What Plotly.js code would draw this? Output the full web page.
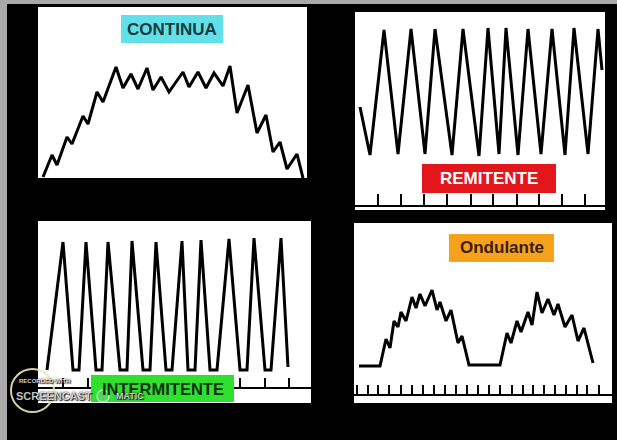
<!DOCTYPE html>
<html><head><meta charset="utf-8">
<script src="https://cdn.plot.ly/plotly-3.0.1.min.js"></script>
<style>html,body{margin:0;padding:0;background:#000;}#chart{width:617px;height:440px;}</style>
</head><body><div id="chart"></div>
<script>
// ---- data (readings: time units, temperature units above panel base) ----
const continuaT    = [5,14,19,29,34,45,50,59,65,78,85,93,100,109,115,123,131,145,151,160,168,176,185,192,199,210,219,228,235,242,249,259,265];
const continuaTemp = [1,23,13,41,34,62,54,86,76,111,90,104,89,110,88,101,86,106,91,106,90,105,92,112,65,93,45,63,26,36,9,24,0];

const remitenteT    = [5,15,29,43,56,70,80,97,108,124,133,144,151,163,173,186,197,210,219,233,243,247];
const remitenteTemp = [103,55,180,56,181,56,181,55,181,54,182,56,182,55,181,56,181,55,182,56,181,140];
const remitenteTicks = [23,46,69,92,116,138,162,184,207,230];

const intermitenteT    = [9,25,35,41,48,58,64,70,82,89,94,105,112,118,128,134,144,150,157,163,172,179,191,202,209,216,227,233,243,250];
const intermitenteTemp = [33,161,33,33,161,33,33,161,33,33,162,33,33,161,33,33,162,33,33,163,33,33,164,33,33,165,33,33,165,36];
const intermitenteTicks = [25,50,75,101,126,151,177,202,227,251];

const ondulanteT    = [5,26,32,36,40,44,47,52,58,62,66,71,78,83,86,92,97,104,108,115,146,153,157,163,167,174,178,183,188,194,200,204,211,218,224,230,239];
const ondulanteTemp = [37,37,64,55,82,76,91,82,106,95,109,97,113,93,101,82,93,60,67,38,38,70,60,82,71,91,78,111,90,104,88,99,76,88,62,75,40];
const ondulanteTicks = [3,14,24,35,47,58,69,80,91,102,113,124,135,146,158,169,179,190,201,212,223,233,245];

const labels = ["CONTINUA","REMITENTE","INTERMITENTE","Ondulante"];

// ---- layout helpers ----
const W=617, H=440;
const fx = p => p/W, fy = p => 1-p/H;
const panels = [
  {x:[38,307], y:[7,178]},
  {x:[355,605], y:[12,210], base:206, tl:11},
  {x:[38,311], y:[221,403], base:388, tl:9},
  {x:[354,612], y:[223,403], base:395, tl:9}
];
const series = [
  [continuaT, continuaTemp, null],
  [remitenteT, remitenteTemp, remitenteTicks],
  [intermitenteT, intermitenteTemp, intermitenteTicks],
  [ondulanteT, ondulanteTemp, ondulanteTicks]
];

const traces=[], layout={
  width:W, height:H, margin:{l:0,r:0,t:0,b:0},
  paper_bgcolor:'#000', plot_bgcolor:'#fff', showlegend:false,
  shapes:[], annotations:[]
};
panels.forEach((p,i)=>{
  const n = i===0 ? '' : String(i+1);
  traces.push({x:series[i][0], y:series[i][1], type:'scatter', mode:'lines',
    xaxis:'x'+n, yaxis:'y'+n, line:{color:'#000', width:3}, hoverinfo:'skip'});
  const xa = {domain:[fx(p.x[0]), fx(p.x[1])], range:[0, p.x[1]-p.x[0]],
    showgrid:false, zeroline:false, showticklabels:false, ticks:'', fixedrange:true, anchor:'y'+n};
  if (series[i][2]) {
    Object.assign(xa, {anchor:'free', position:fy(p.base), tickmode:'array', tickvals:series[i][2],
      ticks:'inside', ticklen:p.tl, tickwidth:2, tickcolor:'#000',
      showline:true, linecolor:'#000', linewidth:2});
  }
  layout['xaxis'+n] = xa;
  layout['yaxis'+n] = {domain:[fy(p.y[1]), fy(p.y[0])], range:[0, p.y[1]-p.y[0]],
    showgrid:false, zeroline:false, showticklabels:false, ticks:'', fixedrange:true, anchor:'x'+n};
});

// gray frame strips
layout.shapes.push({type:'rect', xref:'paper', yref:'paper', x0:0, x1:fx(7), y0:0, y1:1, fillcolor:'#a9a9a9', line:{width:0}, layer:'above'});
layout.shapes.push({type:'rect', xref:'paper', yref:'paper', x0:0, x1:1, y0:fy(4), y1:1, fillcolor:'#a9a9a9', line:{width:0}, layer:'above'});

// label boxes
const boxes = [
  {x:[121,223], y:[15,43], fill:'#62e0e9', color:'#163a40', size:17},
  {x:[422,556], y:[164,193], fill:'#e3161b', color:'#ffffff', size:17},
  {x:[91,234], y:[375,402], fill:'#2fe02f', color:'#0e2e0e', size:16.5},
  {x:[449,554], y:[234,262], fill:'#f7a21d', color:'#3a1c05', size:17}
];
boxes.forEach((b,i)=>{
  layout.shapes.push({type:'rect', xref:'paper', yref:'paper', x0:fx(b.x[0]), x1:fx(b.x[1]),
    y0:fy(b.y[1]), y1:fy(b.y[0]), fillcolor:b.fill, line:{width:0}, layer:'above'});
  layout.annotations.push({xref:'paper', yref:'paper', x:fx((b.x[0]+b.x[1])/2), y:fy((b.y[0]+b.y[1])/2),
    text:'<b>'+labels[i]+'</b>', showarrow:false, xanchor:'center', yanchor:'middle',
    font:{family:'Liberation Sans, Arial, sans-serif', size:b.size, color:b.color}});
});

// recording watermark
const sh = '0px 0px 2px #000, 1px 1px 1px #000';
layout.shapes.push({type:'circle', xref:'paper', yref:'paper', x0:fx(11), x1:fx(54), y0:fy(412), y1:fy(369),
  line:{color:'rgba(235,230,180,0.9)', width:2}, fillcolor:'rgba(0,0,0,0)', layer:'above'});
layout.shapes.push({type:'circle', xref:'paper', yref:'paper', x0:fx(97), x1:fx(109), y0:fy(402), y1:fy(390),
  line:{color:'rgba(200,255,200,0.7)', width:1.5}, fillcolor:'rgba(120,200,140,0.5)', layer:'above'});
layout.annotations.push({xref:'paper', yref:'paper', x:fx(17), y:fy(381), xanchor:'left', yanchor:'middle',
  text:'<b>RECORDED WITH</b>', showarrow:false, font:{family:'Liberation Sans, Arial', size:6, color:'rgba(235,235,235,0.9)', shadow:sh}});
layout.annotations.push({xref:'paper', yref:'paper', x:fx(14), y:fy(396), xanchor:'left', yanchor:'middle',
  text:'<b>SCREENCAST</b>', showarrow:false, font:{family:'Liberation Sans, Arial', size:11, color:'rgba(230,230,230,0.85)', shadow:sh}});
layout.annotations.push({xref:'paper', yref:'paper', x:fx(114), y:fy(396), xanchor:'left', yanchor:'middle',
  text:'<b>MATIC</b>', showarrow:false, font:{family:'Liberation Sans, Arial', size:9, color:'rgba(235,235,235,0.85)', shadow:sh}});

Plotly.newPlot('chart', traces, layout, {staticPlot:true, displayModeBar:false});
</script></body></html>
